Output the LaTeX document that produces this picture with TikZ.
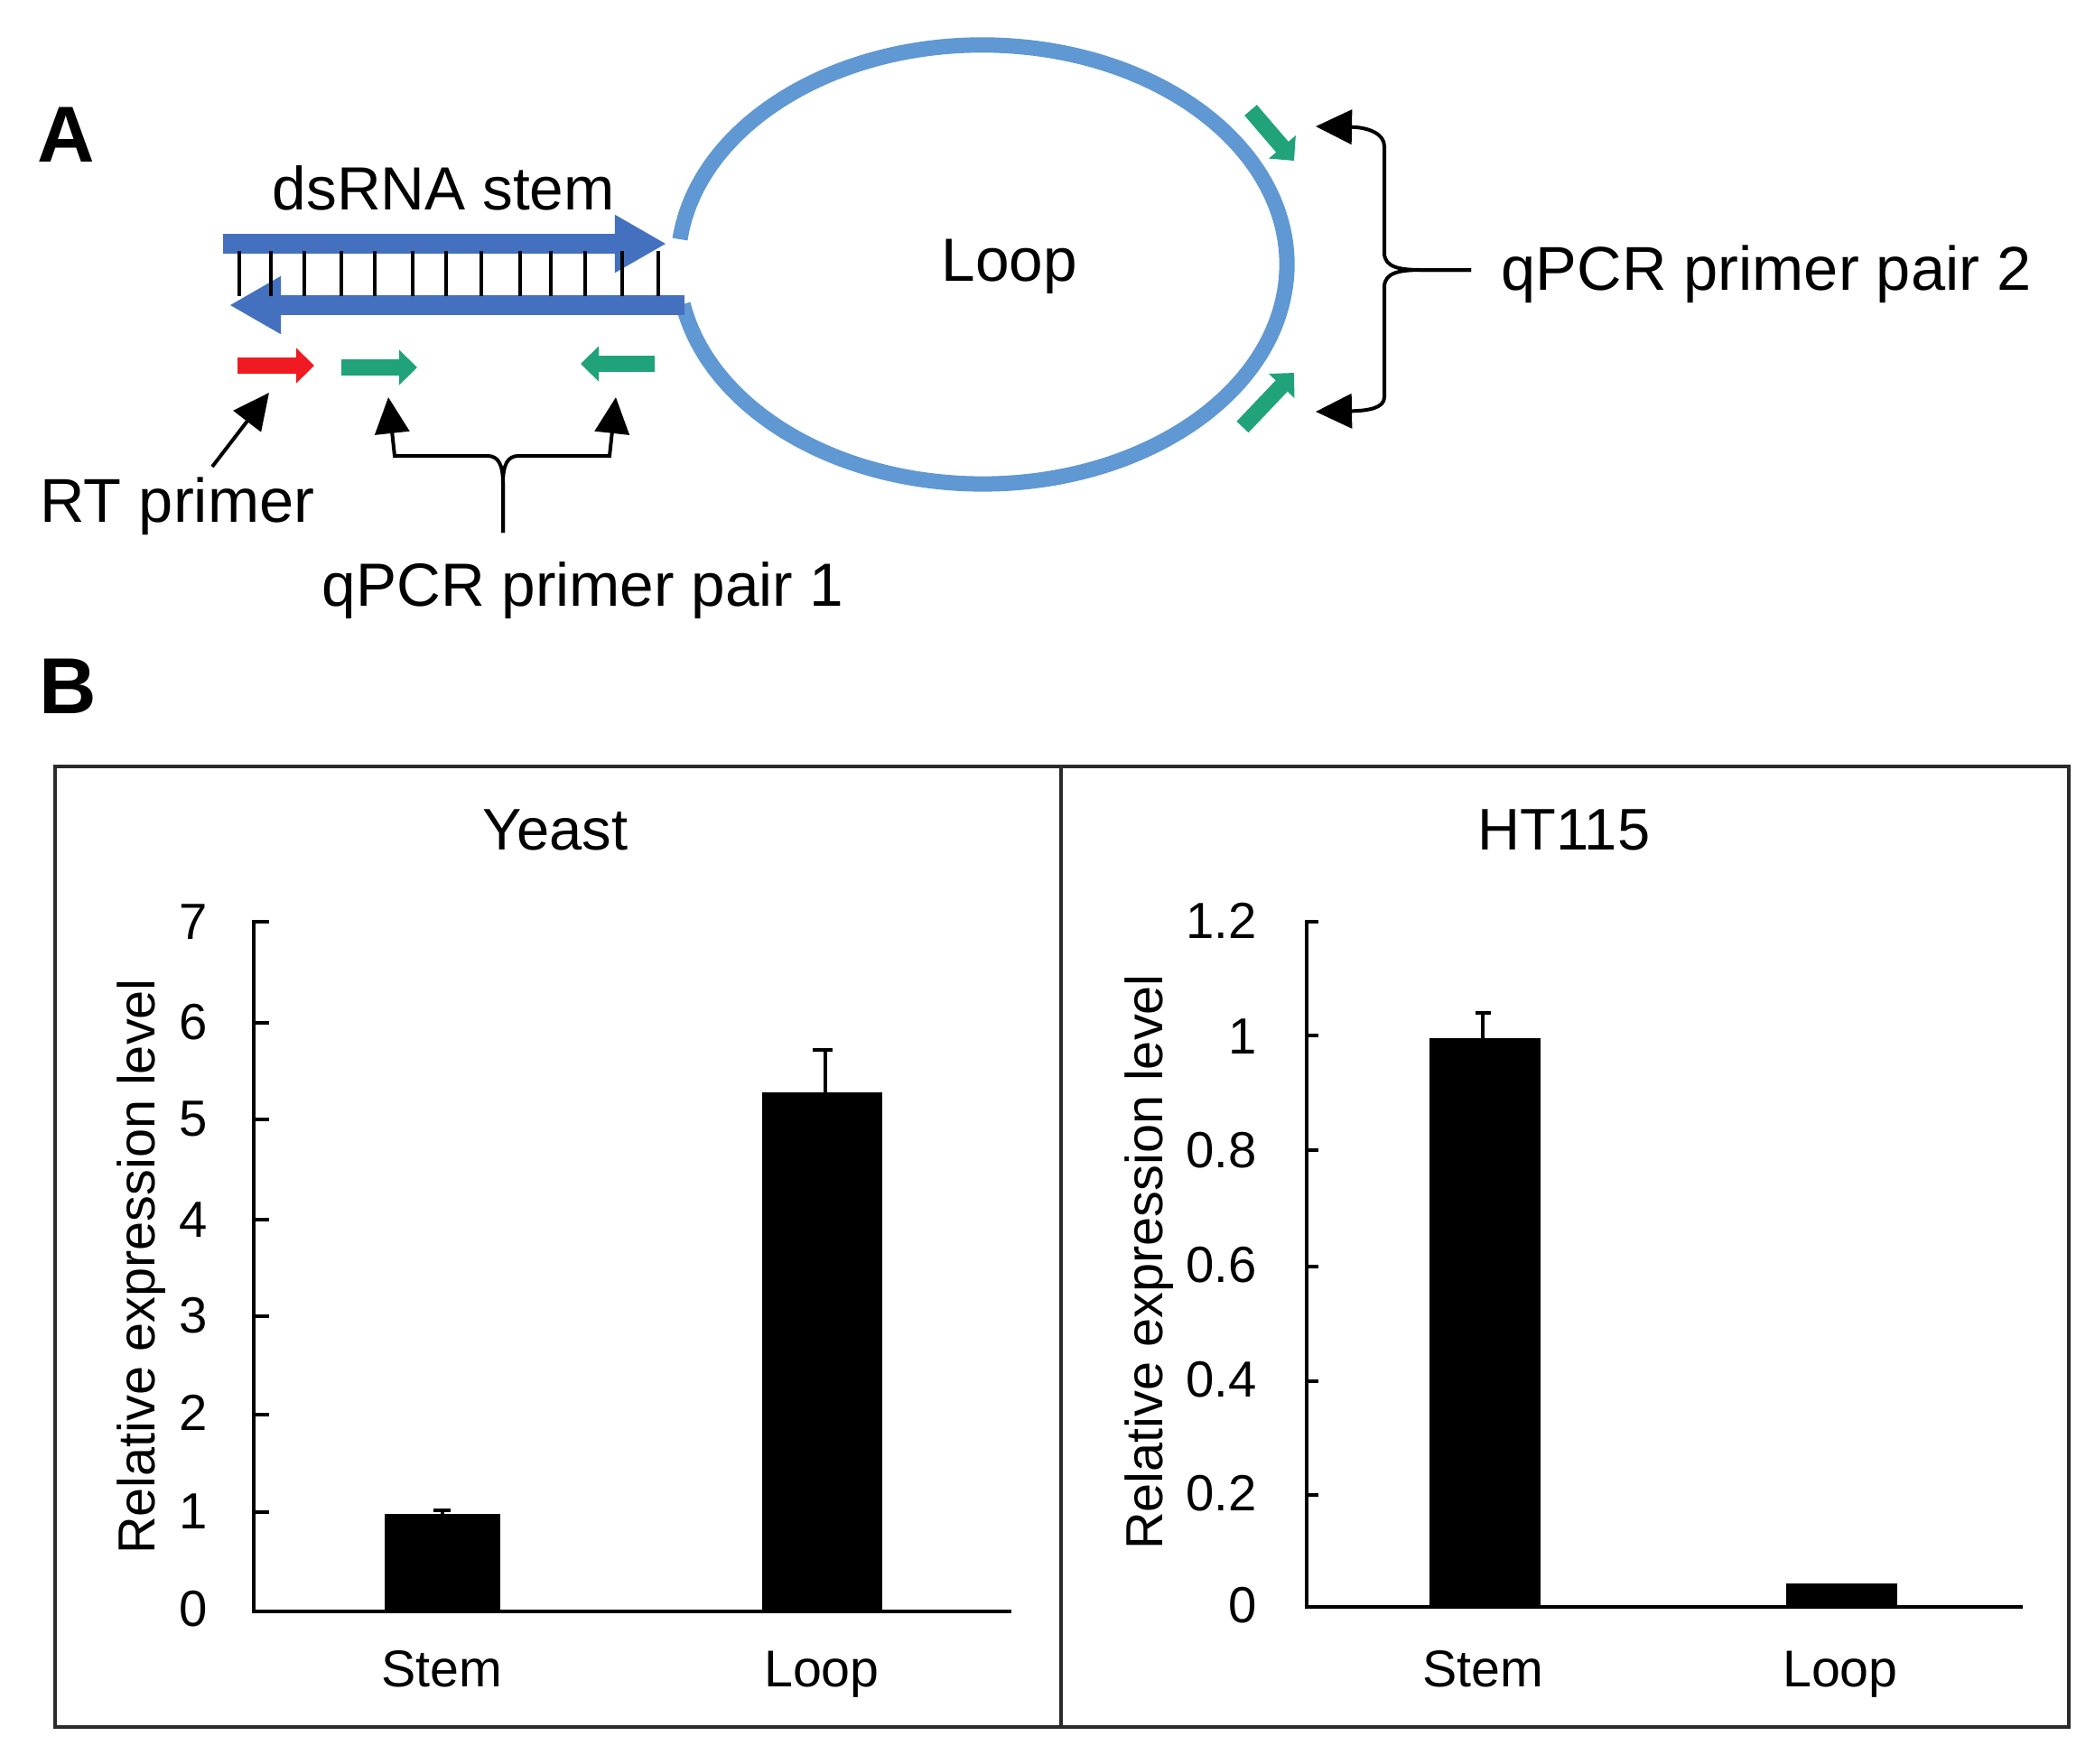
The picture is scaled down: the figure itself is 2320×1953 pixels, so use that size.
\documentclass[tikz,border=0pt]{standalone}
\usepackage{fontspec}
\setmainfont{Liberation Sans}
\usetikzlibrary{arrows.meta}
\definecolor{stemblue}{HTML}{4470C0}
\definecolor{loopblue}{HTML}{5F98D2}
\definecolor{primergreen}{HTML}{20A27A}
\definecolor{primerred}{HTML}{F01A22}
\definecolor{framegrey}{HTML}{2A2A2A}
\tikzset{
  stemarrow/.style={stemblue, line width=.22cm, -{Triangle[length=.57cm, width=.6cm]}},
  primerarrow/.style={line width=.18cm, -{Triangle[length=.2cm, width=.38cm]}},
  tiparrow/.style={black, line width=.04cm, -{Triangle[length=.4cm, width=.38cm]}},
  rung/.style={black, line width=.04cm},
  axisline/.style={black, line width=.035cm},
  bigtxt/.style={inner sep=0, anchor=base west, font=\fontsize{19.2}{23}\selectfont},
  widetxt/.style={inner sep=0, anchor=base west, font=\fontsize{19.5}{23}\selectfont},
  paneltxt/.style={inner sep=0, anchor=base, font=\fontsize{18.5}{22}\selectfont},
  bigletter/.style={inner sep=0, anchor=base west, font=\fontsize{25}{30}\selectfont\bfseries},
  ticktxt/.style={inner sep=0, anchor=east, font=\fontsize{16}{19}\selectfont},
  cattxt/.style={inner sep=0, anchor=base, font=\fontsize{16.3}{19}\selectfont},
  ylab/.style={inner sep=0, anchor=base, rotate=90, font=\fontsize{16.4}{19}\selectfont},
}
\begin{document}
\begin{tikzpicture}[x=.01cm, y=-.01cm]
\useasboundingbox (0,0) rectangle (2320,1953);
% panel A
\node[bigletter] (lettera) at (41,179) {A};
\node[bigtxt] (stemtxt) at (301,232) {dsRNA stem};
\node[bigtxt] (looptxt) at (1042,311) {Loop};
\node[widetxt] (rttxt) at (44,578) {RT primer};
\node[bigtxt] (pair1txt) at (356,671) {qPCR primer pair 1};
\node[widetxt] (pair2txt) at (1662,321) {qPCR primer pair 2};
\draw[loopblue, line width=.17cm] (753,265) arc[start angle=173.4, end angle=-169.6, x radius=3.37cm, y radius=2.43cm];
\coordinate (topstart) at (247,270);
\coordinate (toptip) at (738,270);
\coordinate (botstart) at (758,338);
\coordinate (bottip) at (254,338);
\draw[stemarrow] (topstart) -- (toptip);
\draw[stemarrow] (botstart) -- (bottip);
\draw[rung] (265,278) -- (265,328);
\draw[rung] (300,278) -- (300,328);
\draw[rung] (337,278) -- (337,328);
\draw[rung] (378,278) -- (378,328);
\draw[rung] (415,278) -- (415,328);
\draw[rung] (457,278) -- (457,328);
\draw[rung] (494,278) -- (494,328);
\draw[rung] (533,278) -- (533,328);
\draw[rung] (576,278) -- (576,328);
\draw[rung] (610,278) -- (610,328);
\draw[rung] (648,278) -- (648,328);
\draw[rung] (689,278) -- (689,328);
\draw[rung] (729,278) -- (729,328);
% primers
\coordinate (rts) at (263,405);
\coordinate (rte) at (348,405);
\coordinate (ga1) at (378,407);
\coordinate (ga2) at (462,407);
\coordinate (gb1) at (725,403);
\coordinate (gb2) at (643,403);
\coordinate (gc1) at (1385,122);
\coordinate (gc2) at (1433,178);
\coordinate (gd1) at (1376,473);
\coordinate (gd2) at (1433,413);
\draw[primerarrow, primerred] (rts) -- (rte);
\draw[primerarrow, primergreen] (ga1) -- (ga2);
\draw[primerarrow, primergreen] (gb1) -- (gb2);
\draw[primerarrow, primergreen] (gc1) -- (gc2);
\draw[primerarrow, primergreen] (gd1) -- (gd2);
% pointers
\coordinate (rtfoot) at (235,517);
\coordinate (rthead) at (298,435);
\draw[tiparrow] (rtfoot) -- (rthead);
\coordinate (p1foot) at (557,590);
\coordinate (p1left) at (430,440);
\coordinate (p1right) at (682,440);
\draw[tiparrow] (p1foot) -- (557,535) .. controls (557,515) and (552,505) .. (540,505) -- (437,505) -- (p1left);
\draw[tiparrow] (p1foot) -- (557,535) .. controls (557,515) and (562,505) .. (574,505) -- (675,505) -- (p1right);
\coordinate (p2foot) at (1629,299);
\coordinate (p2top) at (1457,140);
\coordinate (p2bot) at (1457,456);
\draw[tiparrow] (p2foot) -- (1575,299) .. controls (1552,299) and (1533,297) .. (1533,280) -- (1533,162) .. controls (1533,148) and (1515,141) .. (p2top);
\draw[tiparrow] (p2foot) -- (1575,299) .. controls (1552,299) and (1533,301) .. (1533,318) -- (1533,440) .. controls (1533,452) and (1515,455) .. (p2bot);
% panel B
\node[bigletter] (letterb) at (43,790) {B};
\draw[framegrey, line width=.035cm] (61,849) rectangle (2291,1913);
\draw[framegrey, line width=.035cm] (1175,849) -- (1175,1913);
\node[paneltxt] (yeasttxt) at (615,941) {Yeast};
\node[paneltxt] (httxt) at (1732,941) {HT115};
% yeast chart
\node[ylab] (ylaba) at (171,1403) {Relative expression level};
\draw[axisline] (298,1021) -- (281,1021) -- (281,1785) -- (1120,1785);
\draw[axisline] (281,1133) -- (298,1133);
\draw[axisline] (281,1240) -- (298,1240);
\draw[axisline] (281,1351) -- (298,1351);
\draw[axisline] (281,1458) -- (298,1458);
\draw[axisline] (281,1567) -- (298,1567);
\draw[axisline] (281,1675) -- (298,1675);
\node[ticktxt] (ya7) at (230,1021) {7};
\node[ticktxt] (ya6) at (230,1132) {6};
\node[ticktxt] (ya5) at (230,1239) {5};
\node[ticktxt] (ya4) at (230,1351) {4};
\node[ticktxt] (ya3) at (230,1457) {3};
\node[ticktxt] (ya2) at (230,1565) {2};
\node[ticktxt] (ya1) at (230,1674) {1};
\node[ticktxt] (ya0) at (230,1782) {0};
\fill[black] (426,1677) rectangle (554,1785);
\fill[black] (844,1210) rectangle (977,1785);
\draw[axisline] (490,1677) -- (490,1673);
\draw[axisline] (480,1673) -- (499,1673);
\draw[axisline] (914,1210) -- (914,1163);
\draw[axisline] (900,1163) -- (922,1163);
\node[cattxt] (stema) at (489,1868) {Stem};
\node[cattxt] (loopa) at (910,1868) {Loop};
% HT115 chart
\node[ylab] (ylabb) at (1287,1398) {Relative expression level};
\draw[axisline] (1460,1021) -- (1447,1021) -- (1447,1780) -- (2240,1780);
\draw[axisline] (1447,1147) -- (1460,1147);
\draw[axisline] (1447,1274) -- (1460,1274);
\draw[axisline] (1447,1403) -- (1460,1403);
\draw[axisline] (1447,1530) -- (1460,1530);
\draw[axisline] (1447,1656) -- (1460,1656);
\node[ticktxt] (yb12) at (1392,1020) {1.2};
\node[ticktxt] (yb10) at (1392,1148) {1};
\node[ticktxt] (yb08) at (1392,1274) {0.8};
\node[ticktxt] (yb06) at (1392,1401) {0.6};
\node[ticktxt] (yb04) at (1392,1528) {0.4};
\node[ticktxt] (yb02) at (1392,1654) {0.2};
\node[ticktxt] (yb00) at (1392,1778) {0};
\fill[black] (1583,1150) rectangle (1706,1780);
\fill[black] (1978,1754) rectangle (2101,1780);
\draw[axisline] (1642,1150) -- (1642,1122);
\draw[axisline] (1634,1122) -- (1651,1122);
\node[cattxt] (stemb) at (1642,1868) {Stem};
\node[cattxt] (loopb) at (2038,1868) {Loop};
\end{tikzpicture}
\end{document}
